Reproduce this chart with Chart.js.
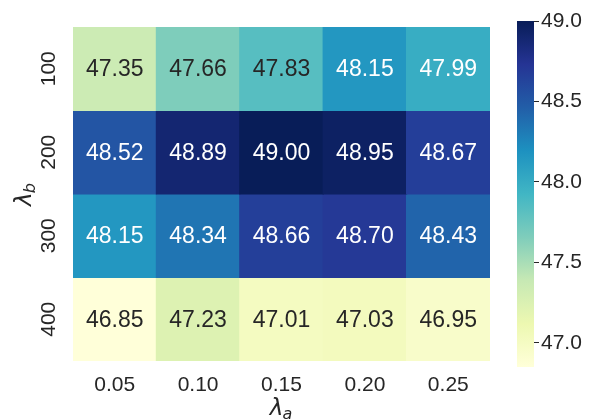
<!DOCTYPE html>
<html>
<head>
<meta charset="utf-8">
<script src="https://cdn.jsdelivr.net/npm/chart.js@4/dist/chart.umd.min.js"></script>
<style>
  html, body { margin: 0; padding: 0; background: #ffffff; }
  #wrap { position: relative; width: 590px; height: 420px; }
  #wrap canvas { position: absolute; left: 0; top: 0; }
</style>
</head>
<body>
<div id="wrap">
  <canvas id="heat" width="590" height="420"></canvas>
  <canvas id="cbar" width="590" height="420"></canvas>
</div>
<script>
// λ_a values along the columns
const lambdaA = ['0.05', '0.10', '0.15', '0.20', '0.25'];
// λ_b values down the rows
const lambdaB = ['100', '200', '300', '400'];
// one array of scores per λ_b row
const row100 = [47.35, 47.66, 47.83, 48.15, 47.99];
const row200 = [48.52, 48.89, 49.00, 48.95, 48.67];
const row300 = [48.15, 48.34, 48.66, 48.70, 48.43];
const row400 = [46.85, 47.23, 47.01, 47.03, 46.95];
const rows = [row100, row200, row300, row400];
// colour scale limits and colourbar ticks
const colorMin = 46.85;
const colorMax = 49.00;
const cbarTicks = [47.0, 47.5, 48.0, 48.5, 49.0];

// YlGnBu colour stops
const ylgnbu = ['#ffffd9', '#edf8b1', '#c7e9b4', '#7fcdbb', '#41b6c4',
                '#1d91c0', '#225ea8', '#253494', '#081d58'];

function hexToRgb(h) {
  return [parseInt(h.slice(1, 3), 16), parseInt(h.slice(3, 5), 16), parseInt(h.slice(5, 7), 16)];
}
const stopsRgb = ylgnbu.map(hexToRgb);

function colorFor(v) {
  let t = (v - colorMin) / (colorMax - colorMin);
  t = Math.max(0, Math.min(1, t));
  const pos = t * (stopsRgb.length - 1);
  const i = Math.min(Math.floor(pos), stopsRgb.length - 2);
  const f = pos - i;
  const a = stopsRgb[i], b = stopsRgb[i + 1];
  return [0, 1, 2].map(k => Math.round(a[k] + (b[k] - a[k]) * f));
}
function rgbStr(c) { return 'rgb(' + c[0] + ',' + c[1] + ',' + c[2] + ')'; }
function luminance(c) {
  const lin = c.map(x => { x /= 255; return x <= 0.03928 ? x / 12.92 : Math.pow((x + 0.055) / 1.055, 2.4); });
  return 0.2126 * lin[0] + 0.7152 * lin[1] + 0.0722 * lin[2];
}

const FONT = '"Liberation Sans", Arial, sans-serif';
const INK = '#262626';
Chart.defaults.font.family = FONT;
Chart.defaults.color = INK;

// each row is a floating band on a 0..4 value axis, top row highest
const datasets = rows.map((vals, r) => ({
  label: lambdaB[r],
  data: vals.map(() => [lambdaB.length - 1 - r, lambdaB.length - r]),
  scores: vals,
  backgroundColor: vals.map(v => rgbStr(colorFor(v))),
  borderWidth: 0,
  inflateAmount: 0.6,
  barPercentage: 1,
  categoryPercentage: 1
}));

// writes each cell's score in its centre
const cellText = {
  id: 'cellText',
  afterDatasetsDraw(chart) {
    const ctx = chart.ctx;
    ctx.save();
    ctx.font = '23px ' + FONT;
    ctx.textAlign = 'center';
    ctx.textBaseline = 'middle';
    chart.data.datasets.forEach((ds, di) => {
      chart.getDatasetMeta(di).data.forEach((el, i) => {
        const v = ds.scores[i];
        const c = colorFor(v);
        ctx.fillStyle = luminance(c) > 0.408 ? INK : '#ffffff';
        const p = el.getCenterPoint();
        ctx.fillText(v.toFixed(2), p.x, p.y + 1);
      });
    });
    ctx.restore();
  }
};

// axis titles λ_a (below) and λ_b (left, rotated)
function drawLambda(ctx, sub, x, y) {
  ctx.font = 'italic 23px "DejaVu Sans", sans-serif';
  const w1 = ctx.measureText('λ').width;
  ctx.font = 'italic 16px "DejaVu Sans", sans-serif';
  const w2 = ctx.measureText(sub).width;
  const start = x - (w1 + w2) / 2;
  ctx.textAlign = 'left';
  ctx.textBaseline = 'alphabetic';
  ctx.font = 'italic 23px "DejaVu Sans", sans-serif';
  ctx.fillText('λ', start, y);
  ctx.font = 'italic 16px "DejaVu Sans", sans-serif';
  ctx.fillText(sub, start + w1 - 1, y + 4);
}
const axisTitles = {
  id: 'axisTitles',
  afterDraw(chart) {
    const ctx = chart.ctx;
    const area = chart.chartArea;
    ctx.save();
    ctx.fillStyle = INK;
    drawLambda(ctx, 'a', (area.left + area.right) / 2, 415);
    ctx.translate(31, (area.top + area.bottom) / 2);
    ctx.rotate(-Math.PI / 2);
    drawLambda(ctx, 'b', 0, 0);
    ctx.restore();
  }
};

new Chart(document.getElementById('heat'), {
  type: 'bar',
  data: { labels: lambdaA, datasets: datasets },
  options: {
    responsive: false,
    animation: false,
    events: [],
    layout: { padding: { left: 0, top: 27, right: 100, bottom: 0 } },
    plugins: { legend: { display: false }, tooltip: { enabled: false } },
    scales: {
      x: {
        stacked: true,
        grid: { display: false },
        border: { display: false },
        ticks: { font: { size: 21 }, color: INK, padding: 4, maxRotation: 0 },
        afterFit(scale) { scale.height = 59; }
      },
      y: {
        stacked: false,
        min: 0,
        max: lambdaB.length,
        grid: { display: false },
        border: { display: false },
        afterBuildTicks(scale) {
          scale.ticks = lambdaB.map((_, i) => ({ value: i + 0.5 }));
        },
        ticks: {
          font: { size: 21 },
          color: INK,
          padding: -2,
          minRotation: 90,
          maxRotation: 90,
          crossAlign: 'center',
          callback(value) { return lambdaB[lambdaB.length - 1 - Math.floor(value)]; }
        },
        afterFit(scale) { scale.width = 73; }
      }
    }
  },
  plugins: [cellText, axisTitles]
});

// colourbar: one floating bar spanning the colour range, filled with the scale
new Chart(document.getElementById('cbar'), {
  type: 'bar',
  data: {
    labels: [''],
    datasets: [{
      data: [[colorMin, colorMax]],
      backgroundColor(context) {
        const area = context.chart.chartArea;
        if (!area) return ylgnbu[4];
        const g = context.chart.ctx.createLinearGradient(0, area.bottom, 0, area.top);
        ylgnbu.forEach((c, i) => g.addColorStop(i / (ylgnbu.length - 1), c));
        return g;
      },
      borderWidth: 0,
      barPercentage: 1,
      categoryPercentage: 1
    }]
  },
  options: {
    responsive: false,
    animation: false,
    events: [],
    layout: { padding: { left: 517, top: 21, right: 0, bottom: 53 } },
    plugins: { legend: { display: false }, tooltip: { enabled: false } },
    scales: {
      x: { display: false },
      y: {
        position: 'right',
        min: colorMin,
        max: colorMax,
        afterBuildTicks(scale) {
          scale.ticks = cbarTicks.map(v => ({ value: v }));
        },
        grid: { drawOnChartArea: false, drawTicks: true, tickLength: 5, tickColor: INK, tickWidth: 1 },
        border: { display: false },
        ticks: { font: { size: 21 }, color: INK, padding: 2, callback(v) { return v.toFixed(1); } },
        afterFit(scale) { scale.width = 56; }
      }
    }
  }
});
</script>
</body>
</html>
